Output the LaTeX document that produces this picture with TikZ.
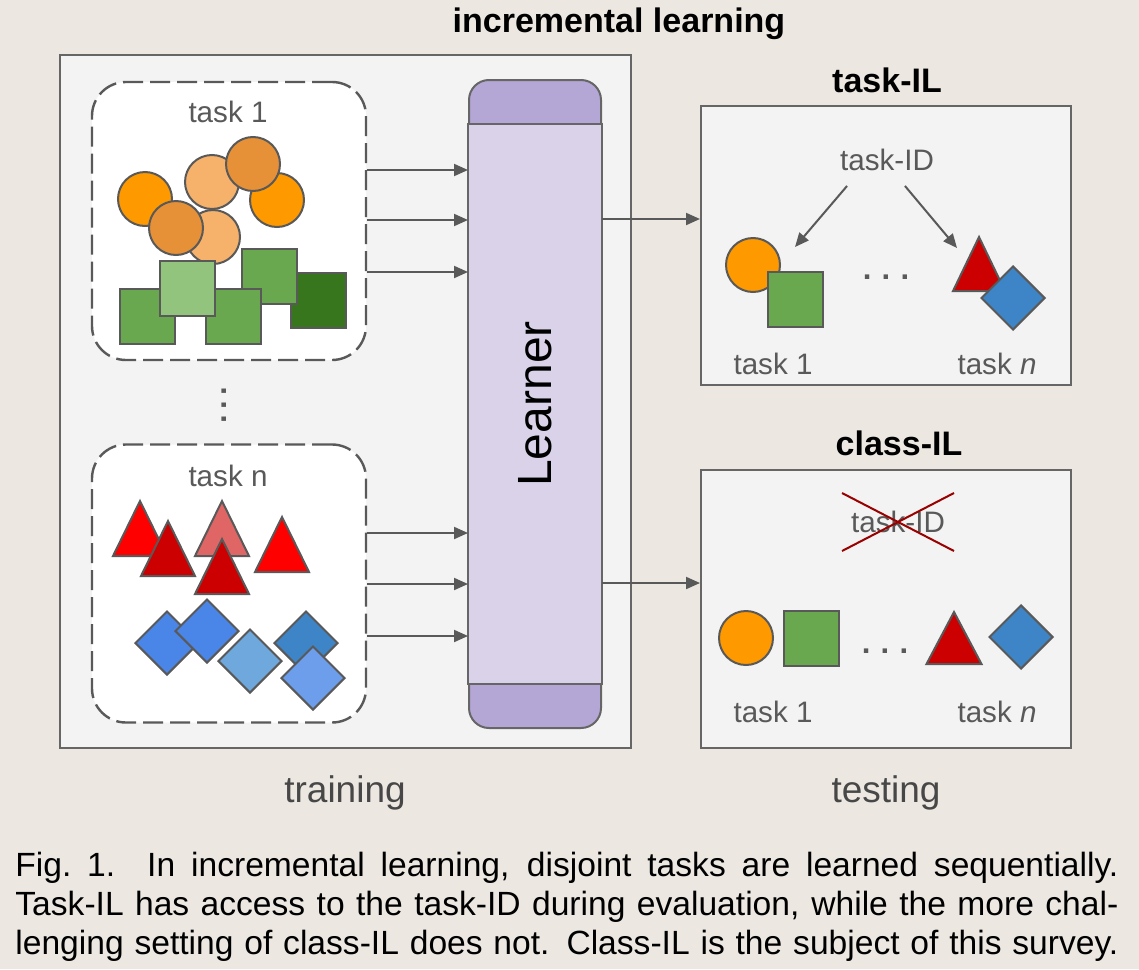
\documentclass[tikz,border=0pt]{standalone}
\usepackage{fontspec}
\setmainfont{Liberation Sans}
\usetikzlibrary{arrows.meta,shapes.geometric}

\definecolor{bgc}{RGB}{236,232,225}
\definecolor{panelc}{HTML}{F3F3F3}
\definecolor{edgec}{HTML}{666666}
\definecolor{inkc}{HTML}{595959}
\definecolor{orangec}{HTML}{FF9900}
\definecolor{lorangec}{HTML}{F6B26B}
\definecolor{dorangec}{HTML}{E69138}
\definecolor{greenc}{HTML}{6AA84F}
\definecolor{lgreenc}{HTML}{93C47D}
\definecolor{dgreenc}{HTML}{38761D}
\definecolor{redc}{HTML}{FF0000}
\definecolor{dredc}{HTML}{CC0000}
\definecolor{lredc}{HTML}{E06666}
\definecolor{bluec}{HTML}{4A86E8}
\definecolor{lbluec}{HTML}{6FA8DC}
\definecolor{mbluec}{HTML}{3D85C6}
\definecolor{sbluec}{HTML}{6D9EEB}
\definecolor{capc}{HTML}{B4A7D6}
\definecolor{bodyc}{HTML}{D9D2E9}
\definecolor{crossc}{HTML}{990000}

\begin{document}
\begin{tikzpicture}[
  x=0.5pt, y=-0.5pt,
  panel/.style={draw=edgec, fill=panelc, line width=1pt, inner sep=0pt},
  taskbox/.style={draw=inkc, fill=white, dash pattern=on 10pt off 3.5pt, line width=1.2pt,
    rounded corners=17pt, minimum width=137pt, minimum height=139pt, inner sep=0pt},
  lbl/.style={text=inkc, font=\fontsize{14.8}{17}\selectfont},
  head/.style={font=\bfseries\fontsize{17}{20}\selectfont},
  phase/.style={text=inkc!80!black, font=\fontsize{18.5}{22}\selectfont},
  arr/.style={-{Triangle[length=7pt,width=6pt]}, draw=inkc, line width=1pt},
  blob/.style={circle, draw=inkc, line width=1pt, minimum size=27pt, inner sep=0pt, fill=#1},
  tile/.style={rectangle, draw=inkc, line width=1pt, minimum size=27.5pt, inner sep=0pt, fill=#1},
  gem/.style={diamond, draw=inkc, line width=1pt, minimum size=32pt, inner sep=0pt, fill=#1},
  wedge/.style={draw=inkc, line width=1pt, fill=#1},
  dots/.style={text=inkc, font=\bfseries\fontsize{15.5}{17}\selectfont, inner sep=0pt}
]

\fill[bgc] (0,0) rectangle (1139,969);

% training side
\node[head] (title) at (619,24) {incremental learning};
\node[panel, minimum width=285.5pt, minimum height=346.5pt] (train) at (345.5,401.5) {};

\node[taskbox] (task1) at (229,221) {};
\node[lbl] (task1lbl) at (228,112) {task 1};
\node[blob=orangec] (o1) at (145,199) {};
\node[blob=orangec] (o2) at (277,200) {};
\node[blob=lorangec] (o3) at (212,182) {};
\node[blob=lorangec] (o4) at (213,237) {};
\node[blob=dorangec] (o5) at (176,228) {};
\node[blob=dorangec] (o6) at (253,164) {};
\node[tile=dgreenc] (g5) at (318.5,300) {};
\node[tile=greenc] (g4) at (269,276.5) {};
\node[tile=greenc] (g1) at (147.5,316.5) {};
\node[tile=greenc] (g3) at (233.5,316) {};
\node[tile=lgreenc] (g2) at (187.5,288) {};

\node[dots, rotate=90] (vdots) at (224,405) {.\,.\,.};

\node[taskbox] (taskn) at (229,583.5) {};
\node[lbl] (tasknlbl) at (228,476) {task n};
\draw[wedge=redc] (140,501) -- ++(27,55) -- ++(-54,0) -- cycle;
\draw[wedge=dredc] (168,521) -- ++(27,55) -- ++(-54,0) -- cycle;
\draw[wedge=lredc] (222,501) -- ++(27,55) -- ++(-54,0) -- cycle;
\draw[wedge=dredc] (222,539) -- ++(27,55) -- ++(-54,0) -- cycle;
\draw[wedge=redc] (282,517) -- ++(27,55) -- ++(-54,0) -- cycle;
\node[gem=bluec] (b1) at (167,643) {};
\node[gem=bluec] (b2) at (207,631) {};
\node[gem=lbluec] (b3) at (250,661) {};
\node[gem=mbluec] (b4) at (306,643) {};
\node[gem=sbluec] (b5) at (313,678) {};

% learner
\node[draw=edgec, fill=capc, line width=1pt, rounded corners=10pt,
  minimum width=66pt, minimum height=324pt, inner sep=0pt] (learner) at (535,404) {};
\draw[draw=edgec, fill=bodyc, line width=1pt]
  ([yshift=-22.5pt]learner.north west) rectangle ([yshift=22.5pt]learner.south east);
\node[rotate=90, font=\fontsize{24}{28}\selectfont] (lname) at (learner) {Learner};

\draw[arr] (task1.east |- 0,170) -- (learner.west |- 0,170);
\draw[arr] (task1.east |- 0,220) -- (learner.west |- 0,220);
\draw[arr] (task1.east |- 0,272) -- (learner.west |- 0,272);
\draw[arr] (taskn.east |- 0,533) -- (learner.west |- 0,533);
\draw[arr] (taskn.east |- 0,584) -- (learner.west |- 0,584);
\draw[arr] (taskn.east |- 0,636) -- (learner.west |- 0,636);

% testing side
\node[head] (tilhead) at (887,80) {task-IL};
\node[panel, minimum width=185pt, minimum height=139.5pt] (taskil) at (886,245.5) {};
\node[lbl] (tid) at (887,160) {task-ID};
\coordinate (idto1) at (795,247);
\coordinate (idto2) at (957,248);
\draw[arr] ([shift={(7pt,-4pt)}]tid.south west) -- (idto1);
\draw[arr] ([shift={(-18pt,-4pt)}]tid.south east) -- (idto2);
\node[blob=orangec] (to) at (753,265) {};
\node[tile=greenc] (tg) at (795.5,299.5) {};
\node[dots] (tdots) at (886,277) {.\,\,.\,\,.};
\draw[wedge=dredc] (979,237) -- ++(26,54) -- ++(-52,0) -- cycle;
\node[gem=mbluec] (tb) at (1013,298) {};
\node[lbl] (tl1) at (773,364) {task 1};
\node[lbl] (tln) at (997,364) {task \textit{n}};

\node[head] (cilhead) at (899,443) {class-IL};
\node[panel, minimum width=185pt, minimum height=139pt] (classil) at (886,609) {};
\node[lbl] (cid) at (898,522) {task-ID};
\draw[crossc, line width=1pt] (cid.center) ++(-56,-29) -- ++(112,58);
\draw[crossc, line width=1pt] (cid.center) ++(-56,29) -- ++(112,-58);
\node[blob=orangec] (co) at (746,638) {};
\node[tile=greenc] (cg) at (811.5,638) {};
\node[dots] (cdots) at (885,651) {.\,\,.\,\,.};
\draw[wedge=dredc] (954,612) -- ++(27.5,52) -- ++(-55,0) -- cycle;
\node[gem=mbluec] (cb) at (1021,637) {};
\node[lbl] (cl1) at (773,712) {task 1};
\node[lbl] (cln) at (997,712) {task \textit{n}};

\draw[arr] (learner.east |- 0,219) -- (taskil.west |- 0,219);
\draw[arr] (learner.east |- 0,583) -- (classil.west |- 0,583);

\node[phase] (trainlbl) at (345,793) {training};
\node[phase] (testlbl) at (886,793) {testing};

% caption
\node[anchor=north west, inner sep=0pt, text width=551.5pt, align=justify,
  font=\fontsize{16.8}{19.5}\selectfont] (caption) at (15,852)
  {\tolerance=10000\parfillskip=0pt Fig.~1. In incremental learning, disjoint tasks are learned sequentially.\linebreak
   Task-IL has access to the task-ID during evaluation, while the more chal-\linebreak
   lenging setting of class-IL does not. Class-IL is the subject of this survey.\par};

\end{tikzpicture}
\end{document}
